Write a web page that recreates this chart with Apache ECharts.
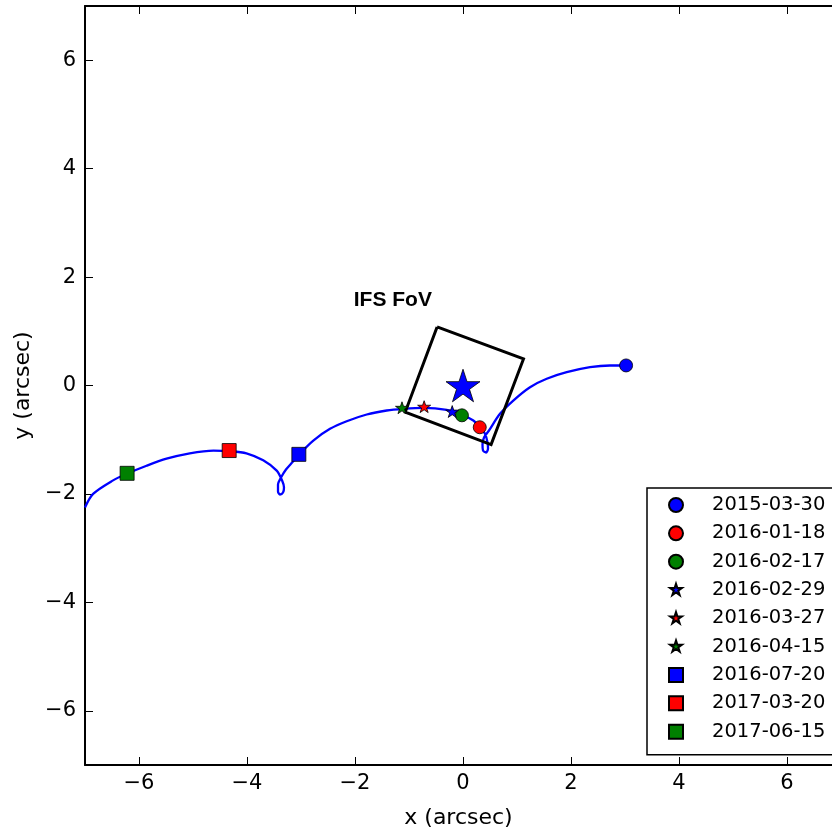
<!DOCTYPE html>
<html>
<head>
<meta charset="utf-8">
<script src="https://cdn.jsdelivr.net/npm/echarts@6/dist/echarts.min.js"></script>
<style>
html,body{margin:0;padding:0;background:#fff;}
#chart{width:832px;height:828px;}
</style>
</head>
<body>
<div id="chart"></div>
<script>
// ---- data ----
const xTicks = [-6, -4, -2, 0, 2, 4, 6];
const yTicks = [-6, -4, -2, 0, 2, 4, 6];
const xRange = [-7, 6.833];   // the axis box continues past the right edge of the picture
const yRange = [-7, 7];

const epochNames = ['2015-03-30', '2016-01-18', '2016-02-17', '2016-02-29', '2016-03-27', '2016-04-15', '2016-07-20', '2017-03-20', '2017-06-15'];
const epochX = [3.02, 0.31, -0.02, -0.20, -0.72, -1.13, -3.04, -4.33, -6.22];
const epochY = [0.37, -0.77, -0.55, -0.48, -0.39, -0.41, -1.27, -1.20, -1.62];

const trackX = [-7.00, -6.85, -6.48, -6.23, -5.86, -5.49, -5.06, -4.62, -4.32, -4.01, -3.70, -3.45,
  -3.35, -3.315, -3.333, -3.389, -3.426, -3.426, -3.37, -3.278, -3.148, -3.037,
  -2.772, -2.463, -2.154, -1.783, -1.413, -1.106, -0.735, -0.302, -0.024, 0.191, 0.315, 0.407,
  0.454, 0.463, 0.426, 0.370, 0.361, 0.389, 0.481, 0.685, 0.931, 1.241, 1.550, 1.920, 2.352, 2.722, 3.031];
const trackY = [-2.25, -2.00, -1.75, -1.63, -1.48, -1.35, -1.25, -1.20, -1.21, -1.25, -1.38, -1.57,
  -1.753, -1.882, -1.974, -2.011, -1.956, -1.827, -1.697, -1.550, -1.402, -1.273,
  -1.015, -0.799, -0.659, -0.535, -0.461, -0.430, -0.411, -0.448, -0.535, -0.646, -0.769, -0.891,
  -1.052, -1.162, -1.236, -1.199, -1.089, -0.959, -0.830, -0.522, -0.277, -0.031, 0.124, 0.245, 0.338, 0.369, 0.369];

const fovX = [-0.48, 1.12, 0.52, -1.07, -0.48];
const fovY = [1.08, 0.49, -1.09, -0.49, 1.08];

const hostStar = [0, 0];
const fovLabel = { name: 'IFS FoV', x: -1.30, y: 1.57 };

// ---- styles ----
const STAR = 'path://M50,0L61.23,34.55L97.55,34.55L68.16,55.9L79.39,90.45L50,69.1L20.61,90.45L31.84,55.9L2.45,34.55L38.77,34.55Z';
const STAR_LEGEND = 'path://M-6,-6M106,106M50,0L61.23,34.55L97.55,34.55L68.16,55.9L79.39,90.45L50,69.1L20.61,90.45L31.84,55.9L2.45,34.55L38.77,34.55Z';
const epochColors = ['#0000ff', '#ff0000', '#008000', '#0000ff', '#ff0000', '#008000', '#0000ff', '#ff0000', '#008000'];
const epochSymbols = ['circle', 'circle', 'circle', STAR, STAR, STAR, 'rect', 'rect', 'rect'];
const epochSizes = [13, 13, 13, [13, 12.5], [13, 12.5], [13, 12.5], 14, 14, 14];

const FONT = 'DejaVu Sans';
const fmt = v => String(v).replace('-', '\u2212');

function axisCommon(show, range) {
  return {
    type: 'value', min: range[0], max: range[1],
    axisLine: { show: true, onZero: false, lineStyle: { color: '#000', width: 2 } },
    axisTick: { show: true, inside: true, length: 8, lineStyle: { color: '#000', width: 1 } },
    axisLabel: { show: show, color: '#000', fontFamily: FONT, fontSize: 21, formatter: fmt },
    splitLine: { show: false }
  };
}

const xb = axisCommon(true, xRange);
xb.position = 'bottom';
xb.axisTick.customValues = xTicks;
xb.axisLabel.customValues = xTicks;
xb.axisLabel.margin = 8;
xb.name = 'x (arcsec)';
xb.nameLocation = 'middle';
xb.nameGap = 42;
xb.nameTextStyle = { color: '#000', fontFamily: FONT, fontSize: 22 };

const xt = axisCommon(false, xRange);
xt.position = 'top';
xt.axisTick.customValues = xTicks;

const yl = axisCommon(true, yRange);
yl.position = 'left';
yl.axisTick.customValues = yTicks;
yl.axisLabel.customValues = yTicks;
yl.axisLabel.margin = 9;
yl.name = 'y (arcsec)';
yl.nameLocation = 'middle';
yl.nameRotate = 90;
yl.nameGap = 50;
yl.nameTextStyle = { color: '#000', fontFamily: FONT, fontSize: 22 };

const series = [];
series.push({
  type: 'line', name: 'track', xAxisIndex: 0, yAxisIndex: 0,
  data: trackX.map((x, i) => [x, trackY[i]]),
  showSymbol: false, smooth: 0.3, z: 2, silent: true,
  lineStyle: { color: '#0000ff', width: 2.3 }
});
series.push({
  type: 'line', name: 'fov', xAxisIndex: 0, yAxisIndex: 0,
  data: fovX.map((x, i) => [x, fovY[i]]),
  showSymbol: false, z: 3, silent: true,
  lineStyle: { color: '#000', width: 3, join: 'miter' }
});
epochNames.forEach((n, i) => {
  series.push({
    type: 'scatter', name: n, xAxisIndex: 0, yAxisIndex: 0,
    data: [[epochX[i], epochY[i]]],
    symbol: epochSymbols[i], symbolSize: epochSizes[i], symbolKeepAspect: true,
    z: 4,
    itemStyle: { color: epochColors[i], borderColor: '#000', borderWidth: 0.8, opacity: 1 }
  });
});
series.push({
  type: 'scatter', name: 'host', xAxisIndex: 0, yAxisIndex: 0,
  data: [hostStar], symbol: STAR, symbolSize: [34, 32.5], z: 4,
  itemStyle: { color: '#0000ff', borderColor: '#000', borderWidth: 0.8, opacity: 1 }
});
series.push({
  type: 'scatter', name: 'label', xAxisIndex: 0, yAxisIndex: 0,
  data: [{ name: fovLabel.name, value: [fovLabel.x, fovLabel.y] }],
  symbolSize: 0, z: 5, silent: true,
  itemStyle: { opacity: 1 },
  label: { show: true, position: 'inside', formatter: '{b}', color: '#000', textBorderWidth: 0, opacity: 1,
    fontFamily: 'Liberation Sans', fontWeight: 'bold', fontSize: 21 }
});

const legendData = epochNames.map((n, i) => (epochSymbols[i] === STAR ? { name: n, icon: STAR_LEGEND } : { name: n }));

const chart = echarts.init(document.getElementById('chart'), null, { renderer: 'canvas' });
chart.setOption({
  animation: false,
  backgroundColor: '#fff',
  grid: { left: 85, top: 6, right: 0, height: 759, containLabel: false, outerBoundsMode: 'none' },
  xAxis: [xb, xt],
  yAxis: [yl],
  legend: {
    data: legendData,
    orient: 'vertical', left: 647, top: 488,
    padding: [7, 16, 13, 21],
    itemWidth: 14, itemHeight: 14, itemGap: 8.33,
    backgroundColor: '#fff', borderColor: '#000', borderWidth: 1.5, borderRadius: 0,
    selectedMode: false,
    textStyle: { color: '#000', fontFamily: FONT, fontSize: 19.5, lineHeight: 20, padding: [0, 0, 0, 24] }
  },
  series: series
});
</script>
</body>
</html>
